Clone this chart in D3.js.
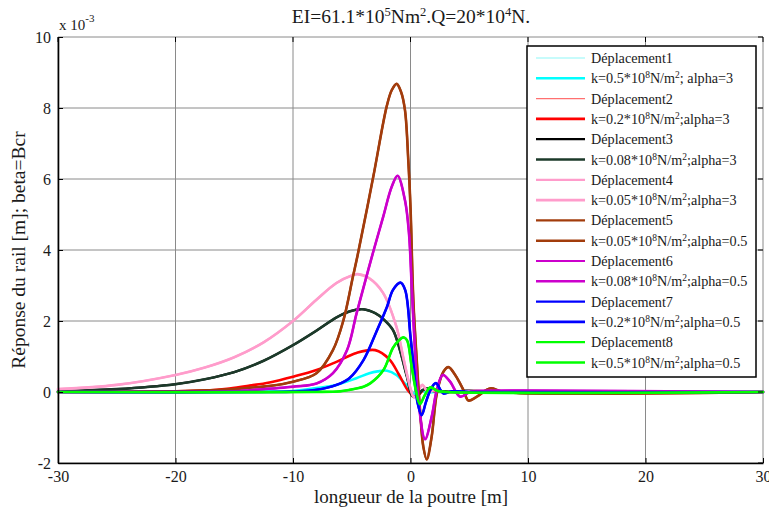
<!DOCTYPE html>
<html>
<head>
<meta charset="utf-8">
<script src="https://cdn.jsdelivr.net/npm/d3@7"></script>
<style>
  body { margin: 0; background: #fff; }
  svg { display: block; }
</style>
</head>
<body>
<svg id="chart" width="769" height="512"></svg>
<script>
// Axis ticks
const xTicks = [-30, -20, -10, 0, 10, 20, 30];
const yTicks = [-2, 0, 2, 4, 6, 8, 10];

// Rail deflection (x 10^-3 m) along the beam (m), one pair of arrays per case
const x1 = [-30, -14, -12, -10, -8, -6.3, -4.6, -3.5, -2.8, -2, -1.2, -0.5, 0, 0.4, 0.9, 1.5, 2.5, 30];
const y1 = [0, 0, 0.01, 0.03, 0.11, 0.2, 0.39, 0.53, 0.58, 0.6, 0.48, 0.25, 0.05, -0.08, 0.03, 0, 0, 0];

const x2 = [-30, -20, -17, -15.4, -13.7, -12, -10, -8, -6.3, -4.6, -3, -1.8, -1, -0.25, 0.3, 0.7, 1.2, 2, 3, 30];
const y2 = [0, 0.02, 0.05, 0.1, 0.18, 0.27, 0.43, 0.62, 0.85, 1.1, 1.18, 0.92, 0.5, 0.06, -0.12, -0.08, 0.08, 0.02, 0, 0];

const x3 = [-30, -25, -20, -17.5, -15, -12.5, -10, -8, -6.3, -5.2, -4, -3, -2.3, -1.5, -0.9, -0.3, 0.2, 0.6, 1, 1.5, 2.5, 3.5, 5, 7, 30];
const y3 = [0.02, 0.08, 0.22, 0.36, 0.56, 0.88, 1.32, 1.73, 2.1, 2.27, 2.33, 2.22, 2.05, 1.75, 1.18, 0.43, -0.13, -0.1, 0.05, 0.1, 0.03, 0, 0.04, 0, 0];

const x4 = [-30, -25, -20, -17.5, -15, -12.5, -10, -8, -6.3, -5, -4.5, -3.5, -2.35, -1.2, -0.6, 0, 0.3, 0.7, 1, 1.5, 2, 3, 5, 10, 30];
const y4 = [0.08, 0.2, 0.48, 0.69, 0.98, 1.4, 2.0, 2.6, 3.07, 3.28, 3.32, 3.2, 2.8, 1.84, 0.95, 0.1, -0.15, 0.05, 0.2, 0, 0.05, -0.02, 0.03, 0, 0];

const x5 = [-30, -20, -15, -13.7, -12, -10, -8, -6.6, -5.7, -4.9, -4.5, -3.17, -2.03, -1.6, -1.18, -0.8, -0.47, -0.19, 0, 0.24, 0.53, 0.81, 1.09, 1.38, 1.8, 2.24, 2.8, 3.23, 3.8, 4.5, 4.93, 5.65, 6.78, 8, 30];
const y5 = [0, 0.02, 0.08, 0.12, 0.17, 0.29, 0.53, 1.18, 2.03, 3.25, 3.85, 6.06, 8.04, 8.5, 8.68, 8.45, 7.94, 6.54, 5.2, 2.6, 0.9, -0.5, -1.54, -1.9, -1.26, -0.04, 0.57, 0.7, 0.48, 0.06, -0.24, -0.13, 0.1, 0, 0];

const x6 = [-30, -15, -13.7, -10, -8, -6.6, -5.4, -4.6, -3.75, -3.17, -2.32, -1.6, -1.1, -0.47, -0.13, 0.1, 0.38, 0.67, 1.24, 1.8, 2.24, 2.74, 3.37, 4.22, 5.1, 6, 30];
const y6 = [0, 0.02, 0.05, 0.15, 0.24, 0.53, 1.18, 2.2, 3.25, 3.95, 4.94, 5.78, 6.09, 5.4, 4.47, 3.0, 1.18, -0.23, -1.33, -0.7, 0.06, 0.48, 0.29, -0.13, 0.01, 0.03, 0];

const x7 = [-30, -12, -10, -8, -6.3, -5.2, -4, -2.9, -2, -1.5, -0.85, -0.45, 0, 0.3, 0.6, 0.95, 1.3, 1.7, 2.15, 2.8, 3.5, 5, 30];
const y7 = [0, 0, 0.01, 0.06, 0.2, 0.39, 0.9, 1.7, 2.4, 2.87, 3.08, 2.87, 1.56, 0.62, -0.3, -0.65, -0.3, 0.06, 0.25, -0.04, 0.02, 0, 0];

const x8 = [-30, -8, -6, -5.2, -4, -3.4, -2.3, -1.5, -1, -0.6, -0.3, 0.1, 0.45, 0.8, 1.2, 1.7, 2.3, 3, 30];
const y8 = [0, 0, 0.02, 0.06, 0.15, 0.25, 0.62, 1.24, 1.45, 1.54, 1.46, 0.71, 0.06, -0.34, -0.1, 0.13, 0.03, 0, 0];

// Legend texts (^{..} marks a superscript)
const dispLabels = ["Déplacement1", "Déplacement2", "Déplacement3", "Déplacement4",
                    "Déplacement5", "Déplacement6", "Déplacement7", "Déplacement8"];
const caseLabels = [
  "k=0.5*10^{8}N/m^{2}; alpha=3",
  "k=0.2*10^{8}N/m^{2};alpha=3",
  "k=0.08*10^{8}N/m^{2};alpha=3",
  "k=0.05*10^{8}N/m^{2};alpha=3",
  "k=0.05*10^{8}N/m^{2};alpha=0.5",
  "k=0.08*10^{8}N/m^{2};alpha=0.5",
  "k=0.2*10^{8}N/m^{2};alpha=0.5",
  "k=0.5*10^{8}N/m^{2};alpha=0.5"
];
const titleText = "EI=61.1*10^{5}Nm^{2}.Q=20*10^{4}N.";
const xTitle = "longueur de la poutre [m]";
const yTitle = "Réponse du rail [m]; beta=Bcr";

const xs = [x1, x2, x3, x4, x5, x6, x7, x8];
const ys = [y1, y2, y3, y4, y5, y6, y7, y8];
const thinColors = ["#8ff8f8", "#ff7070", "#000000", "#ff9ccb", "#a23c0c", "#cc00cc", "#0000ff", "#00ff00"];
const thinWidths = [1.2, 1.2, 2.2, 2.2, 2.2, 2.2, 2.2, 2.2];
const thickColors = ["#00ffff", "#ff0000", "#1c3a2a", "#ff9ccb", "#a23c0c", "#cc00cc", "#0000ff", "#00ff00"];

const FONT = "Liberation Serif, Times New Roman, Times, DejaVu Serif, serif";
const INK = "#1a1a1a";

const svg = d3.select("#chart");
const mLeft = 58, mRight = 763, mTop = 37, mBottom = 463;
const x = d3.scaleLinear().domain([-30, 30]).range([mLeft, mRight]);
const y = d3.scaleLinear().domain([-2, 10]).range([mBottom, mTop]);

// Writes text with ^{..} superscripts as tspans
function richText(sel, str, supSize) {
  const parts = str.split(/(\^\{[^}]*\})/).filter(s => s.length);
  parts.forEach(p => {
    if (p.startsWith("^{")) {
      sel.append("tspan").attr("baseline-shift", "super").attr("font-size", supSize).text(p.slice(2, -1));
    } else {
      sel.append("tspan").text(p);
    }
  });
}
function label(g) {
  return g.append("text").style("font-family", FONT).attr("fill", INK);
}

// Grid
const grid = svg.append("g").attr("stroke", "#8a8a8a").attr("stroke-width", 1);
xTicks.forEach(t => grid.append("line").attr("x1", x(t)).attr("x2", x(t)).attr("y1", mTop).attr("y2", mBottom));
yTicks.forEach(t => grid.append("line").attr("x1", mLeft).attr("x2", mRight).attr("y1", y(t)).attr("y2", y(t)));

// Curves
const line = d3.line().curve(d3.curveCatmullRom.alpha(0.5));
const curves = svg.append("g").attr("fill", "none").attr("stroke-linejoin", "round").attr("stroke-linecap", "round");
xs.forEach((xa, i) => {
  const pts = xa.map((v, j) => [x(v), y(ys[i][j])]);
  curves.append("path").attr("d", line(pts)).attr("stroke", thinColors[i]).attr("stroke-width", thinWidths[i]);
  curves.append("path").attr("d", line(pts)).attr("stroke", thickColors[i]).attr("stroke-width", 2.6);
});

// Axes (ticks point inward, MATLAB style; plain hyphen for negatives)
const fmt = d => String(d);
const xAxis = svg.append("g").attr("transform", `translate(0,${mBottom})`)
  .call(d3.axisBottom(x).tickValues(xTicks).tickFormat(fmt).tickSizeInner(-5).tickSizeOuter(0).tickPadding(8));
const yAxis = svg.append("g").attr("transform", `translate(${mLeft},0)`)
  .call(d3.axisLeft(y).tickValues(yTicks).tickFormat(fmt).tickSizeInner(-5).tickSizeOuter(0).tickPadding(7));
[xAxis, yAxis].forEach(a => {
  a.attr("font-size", 16);
  a.selectAll(".tick text").style("font-family", FONT).attr("fill", INK);
  a.select(".domain").attr("stroke", "#000").attr("stroke-width", 1.6);
  a.selectAll(".tick line").attr("stroke", "#000");
});
// Top and right ticks
const tk = svg.append("g").attr("stroke", "#000");
xTicks.forEach(t => tk.append("line").attr("x1", x(t)).attr("x2", x(t)).attr("y1", mTop).attr("y2", mTop + 5));
yTicks.forEach(t => tk.append("line").attr("x1", mRight).attr("x2", mRight - 5).attr("y1", y(t)).attr("y2", y(t)));

// Exponent note
const ex = label(svg).attr("x", 59).attr("y", 30).attr("font-size", 15);
ex.append("tspan").text("x 10");
ex.append("tspan").attr("dy", -8).attr("font-size", 11).text("-3");

// Titles
const tt = label(svg).attr("x", 411).attr("y", 23).attr("text-anchor", "middle").attr("font-size", 19.5);
richText(tt, titleText, 12.5);
label(svg).attr("x", 411).attr("y", 503).attr("text-anchor", "middle").attr("font-size", 19).text(xTitle);
label(svg).attr("transform", "translate(25,250) rotate(-90)").attr("text-anchor", "middle").attr("font-size", 19.5).text(yTitle);

// Legend
const lg = svg.append("g");
const lx = 527, ly = 46, lw = 229, lh = 331;
lg.append("rect").attr("x", lx).attr("y", ly).attr("width", lw).attr("height", lh)
  .attr("fill", "#fff").attr("stroke", "#000").attr("stroke-width", 1.5);
const entries = [];
dispLabels.forEach((d, i) => {
  entries.push({ label: d, color: thinColors[i], w: thinWidths[i] });
  entries.push({ label: caseLabels[i], color: thickColors[i], w: 2.6 });
});
entries.forEach((e, i) => {
  const yy = 58 + i * 20.3;
  lg.append("line").attr("x1", 536).attr("x2", 585).attr("y1", yy).attr("y2", yy)
    .attr("stroke", e.color).attr("stroke-width", e.w);
  const t = label(lg).attr("x", 591).attr("y", yy + 5).attr("font-size", 14.2);
  richText(t, e.label, 9.5);
});
</script>
</body>
</html>
